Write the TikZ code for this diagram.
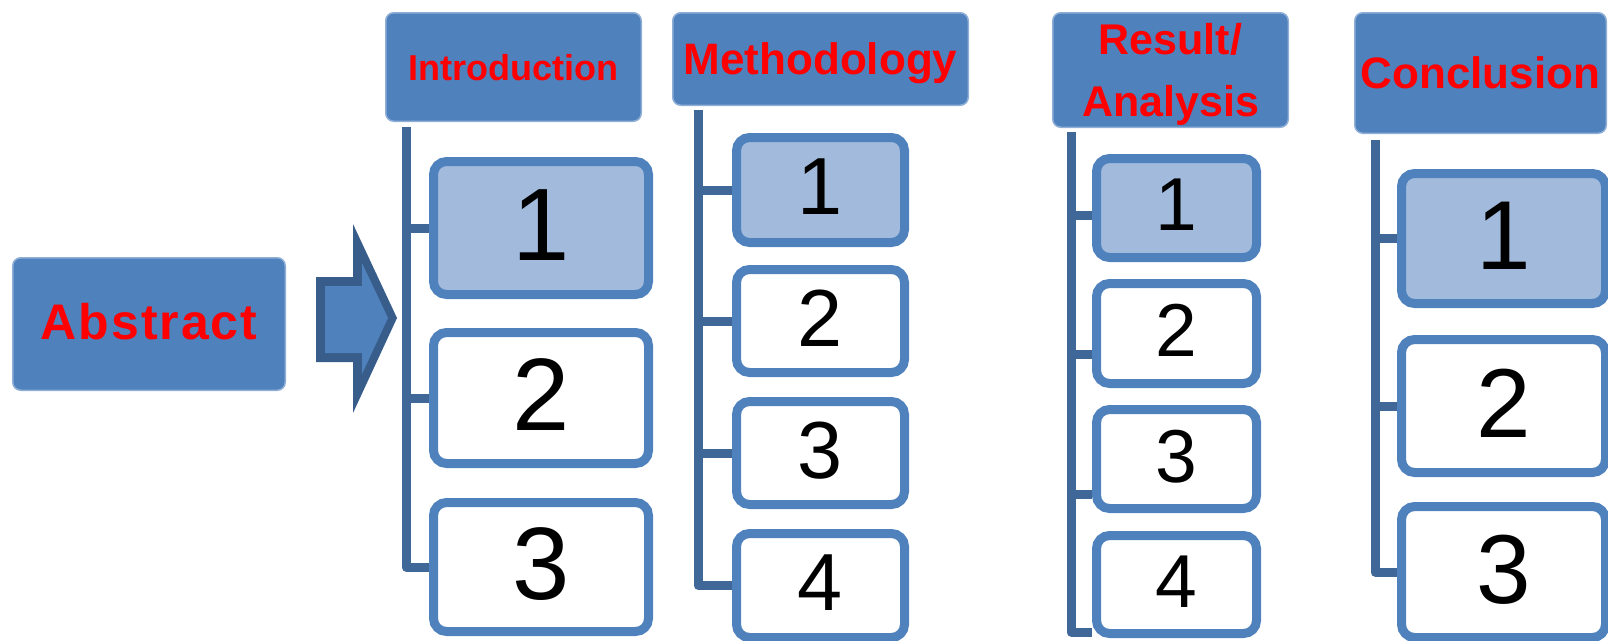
\documentclass[tikz,border=0pt]{standalone}
\usepackage{fontspec}
\setmainfont{Liberation Sans}
\definecolor{hdr}{HTML}{4F81BD}
\definecolor{hdrline}{HTML}{8FAFD6}
\definecolor{lightfill}{HTML}{A2BBDC}
\definecolor{spinec}{HTML}{3F6797}
\definecolor{arrowline}{HTML}{385D8A}
\definecolor{txtred}{HTML}{FF0000}
\tikzset{
  hdrbox/.style={draw=hdrline, line width=1.5pt, fill=hdr, rounded corners=8pt,
    inner sep=0pt, text=txtred, align=center, text depth=0pt},
  numbox/.style={draw=hdr, line width=9pt, rounded corners=13pt, fill=white,
    inner sep=0pt, text depth=6pt},
  hilite/.style={fill=lightfill},
  spine/.style={draw=spinec, line width=9pt, line join=round},
  fi/.style={font=\fontsize{103}{103}\selectfont},
  fm/.style={font=\fontsize{81}{81}\selectfont},
  fr/.style={font=\fontsize{75}{75}\selectfont},
  fc/.style={font=\fontsize{98}{98}\selectfont},
  iw/.style={minimum width=215pt},
  mw/.style={minimum width=168pt},
  rw/.style={minimum width=160pt},
  cw/.style={minimum width=204pt}
}
\begin{document}
\begin{tikzpicture}[x=1pt,y=-1pt]
\useasboundingbox (0,0) rectangle (1608,640);
\clip (0,0) rectangle (1608,640);

% Abstract
\node[hdrbox, minimum width=272.5pt, minimum height=132.5pt, text depth=6pt,
  font=\fontsize{50}{50}\selectfont\bfseries\addfontfeatures{LetterSpace=4}]
  (abs) at (149,324) {Abstract};

% block arrow
\fill[arrowline] (316,277) -- (353,277) -- (353,224) -- (397,318) -- (353,413)
  -- (353,362) -- (316,362) -- cycle;
\fill[hdr] (325,286) -- (362,286) -- (362,263) -- (388,318) -- (362,374)
  -- (362,353) -- (325,353) -- cycle;

% headers
\node[hdrbox, minimum width=255.5pt, minimum height=108.5pt,
  font=\fontsize{36}{36}\selectfont\bfseries] (hi) at (513.5,67) {Introduction};
\node[hdrbox, minimum width=295.5pt, minimum height=92.5pt,
  font=\fontsize{44}{44}\selectfont\bfseries] (hm) at (820.5,59) {Methodology};
\node[hdrbox, minimum width=235.5pt, minimum height=114.5pt,
  font=\fontsize{43}{62}\selectfont\bfseries] (hr) at (1170.5,70) {Result/\\Analysis};
\node[hdrbox, minimum width=251.5pt, minimum height=120.5pt,
  font=\fontsize{44}{44}\selectfont\bfseries] (hc) at (1480.5,73) {Conclusion};

% Introduction boxes
\node[numbox, hilite, fi, iw, minimum height=133pt] (i1) at (541,228) {1};
\node[numbox, fi, iw, minimum height=131pt] (i2) at (541,398) {2};
\node[numbox, fi, iw, minimum height=129pt] (i3) at (541,567) {3};

% Methodology boxes
\node[numbox, hilite, fm, mw, minimum height=105pt] (m1) at (820.5,190) {1};
\node[numbox, fm, mw, minimum height=103pt] (m2) at (820.5,321) {2};
\node[numbox, fm, mw, minimum height=103pt] (m3) at (820.5,453) {3};
\node[numbox, fm, mw, minimum height=104pt] (m4) at (820.5,585.5) {4};

% Result boxes
\node[numbox, hilite, fr, rw, minimum height=99pt] (r1) at (1176.5,208) {1};
\node[numbox, fr, rw, minimum height=100pt] (r2) at (1176.5,333.5) {2};
\node[numbox, fr, rw, minimum height=99pt] (r3) at (1176.5,459) {3};
\node[numbox, fr, rw, minimum height=98pt] (r4) at (1176.5,584.5) {4};

% Conclusion boxes
\node[numbox, hilite, fc, cw, minimum height=130pt] (c1) at (1503.5,238.5) {1};
\node[numbox, fc, cw, minimum height=133pt] (c2) at (1503.5,406) {2};
\node[numbox, fc, cw, minimum height=131pt] (c3) at (1503.5,572) {3};

% spines
\coordinate (it) at (406,127);
\coordinate (mt) at (698,110);
\coordinate (rt) at (1071,132);
\coordinate (ct) at (1375,140);

\draw[spine] (it) |- (i3.west);
\draw[spine] (it |- i1.west) -- (i1.west);
\draw[spine] (it |- i2.west) -- (i2.west);

\draw[spine] (mt) |- (m4.west);
\draw[spine] (mt |- m1.west) -- (m1.west);
\draw[spine] (mt |- m2.west) -- (m2.west);
\draw[spine] (mt |- m3.west) -- (m3.west);

\coordinate (r1c) at ([yshift=-7pt]r1.west);
\coordinate (r2c) at ([yshift=-20.5pt]r2.west);
\coordinate (r3c) at ([yshift=-35pt]r3.west);
\coordinate (r4c) at ([yshift=-47.5pt]r4.west);
\draw[spine] (rt) |- (r4c);
\draw[spine] (rt |- r1c) -- (r1c);
\draw[spine] (rt |- r2c) -- (r2c);
\draw[spine] (rt |- r3c) -- (r3c);

\draw[spine] (ct) |- (c3.west);
\draw[spine] (ct |- c1.west) -- (c1.west);
\draw[spine] (ct |- c2.west) -- (c2.west);
\end{tikzpicture}
\end{document}
